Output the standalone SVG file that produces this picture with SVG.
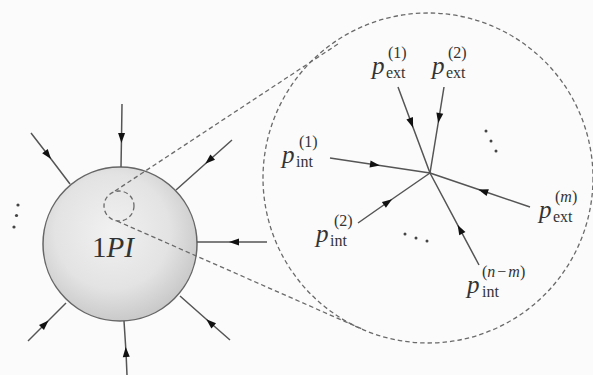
<svg xmlns="http://www.w3.org/2000/svg" width="593" height="375" viewBox="0 0 593 375">
<defs>
<radialGradient id="g" cx="45%" cy="42%" r="62%">
<stop offset="0" stop-color="#f0f1f0"/>
<stop offset="0.6" stop-color="#e2e3e2"/>
<stop offset="1" stop-color="#c4c5c4"/>
</radialGradient>
<marker id="a" viewBox="-6 -4 12 8" markerWidth="12" markerHeight="8" markerUnits="userSpaceOnUse" orient="auto" refX="0" refY="0">
<path d="M-5,-3.5 L5,0 L-5,3.5 z" fill="#111"/>
</marker>
<style>
.leg{fill:none;stroke:#555;stroke-width:1.5;marker-mid:url(#a)}
.dash{fill:none;stroke:#6a6a6a;stroke-width:1.3;stroke-dasharray:4.5 3}
.p{font-family:"Liberation Serif",serif;font-style:italic;font-size:25px;fill:#333}
.s{font-family:"Liberation Serif",serif;font-size:16px;fill:#333}
.i{font-style:italic}
.dot{fill:#444}
</style>
</defs>
<rect width="593" height="375" fill="#fbfbfb"/>
<g id="blob">
<circle cx="120" cy="244" r="77" fill="url(#g)" stroke="#666" stroke-width="1.5"/>
<text x="92" y="257" font-family="Liberation Serif,serif" font-size="29" fill="#333">1<tspan font-style="italic">PI</tspan></text>
</g>
<g id="zoom">
<circle cx="119" cy="206" r="15" class="dash"/>
<circle cx="428" cy="178" r="165" class="dash"/>
<path class="dash" d="M115,191 L338,44"/>
<path class="dash" d="M117,221 L362,329"/>
</g>
<g id="connectors">
<path class="leg" d="M122,104 L121.5,138 L121,167"/>
<path class="leg" d="M31,133 L48,155 L70,184"/>
<path class="leg" d="M232,140 L209,160.5 L176,190"/>
<path class="leg" d="M267,242 L234,242 L197,242"/>
<path class="leg" d="M230,340 L210,322.5 L180,296"/>
<path class="leg" d="M127,375 L126,352 L124,321"/>
<path class="leg" d="M28,341 L45,324 L66,303"/>
<path class="leg" d="M398,87 L411.4,123 L430,173"/>
<path class="leg" d="M444,87 L439,118 L430,173"/>
<path class="leg" d="M330,158 L375,164.7 L430,173"/>
<path class="leg" d="M530,207 L483,191 L430,173"/>
<path class="leg" d="M358,223 L388,202 L430,173"/>
<path class="leg" d="M479,265 L460,229.3 L430,173"/>
</g>
<g id="dots">
<circle class="dot" cx="18" cy="205" r="1.6"/>
<circle class="dot" cx="16.5" cy="215.5" r="1.6"/>
<circle class="dot" cx="14" cy="227" r="1.6"/>
<circle class="dot" cx="486" cy="131" r="1.5"/>
<circle class="dot" cx="491" cy="141" r="1.5"/>
<circle class="dot" cx="496" cy="151" r="1.5"/>
<circle class="dot" cx="405" cy="234" r="1.5"/>
<circle class="dot" cx="416" cy="238" r="1.5"/>
<circle class="dot" cx="427" cy="241" r="1.5"/>
</g>
<g id="label-ext1">
<text class="p" x="372" y="74">p</text>
<text class="s" x="386" y="78">ext</text>
<text class="s" x="388" y="58">(1)</text>
</g>
<g id="label-ext2">
<text class="p" x="432" y="74">p</text>
<text class="s" x="446" y="78">ext</text>
<text class="s" x="448" y="58">(2)</text>
</g>
<g id="label-int1">
<text class="p" x="282" y="163">p</text>
<text class="s" x="296" y="167">int</text>
<text class="s" x="299" y="147">(1)</text>
</g>
<g id="label-int2">
<text class="p" x="316" y="242">p</text>
<text class="s" x="330" y="246">int</text>
<text class="s" x="334" y="226">(2)</text>
</g>
<g id="label-extm">
<text class="p" x="539" y="218">p</text>
<text class="s" x="553" y="222">ext</text>
<text class="s" x="555" y="202">(<tspan class="i">m</tspan>)</text>
</g>
<g id="label-intnm">
<text class="p" x="467" y="293">p</text>
<text class="s" x="482" y="297">int</text>
<text class="s" x="482" y="277">(<tspan class="i">n</tspan><tspan dx="2">−</tspan><tspan class="i" dx="2">m</tspan>)</text>
</g>
</svg>
